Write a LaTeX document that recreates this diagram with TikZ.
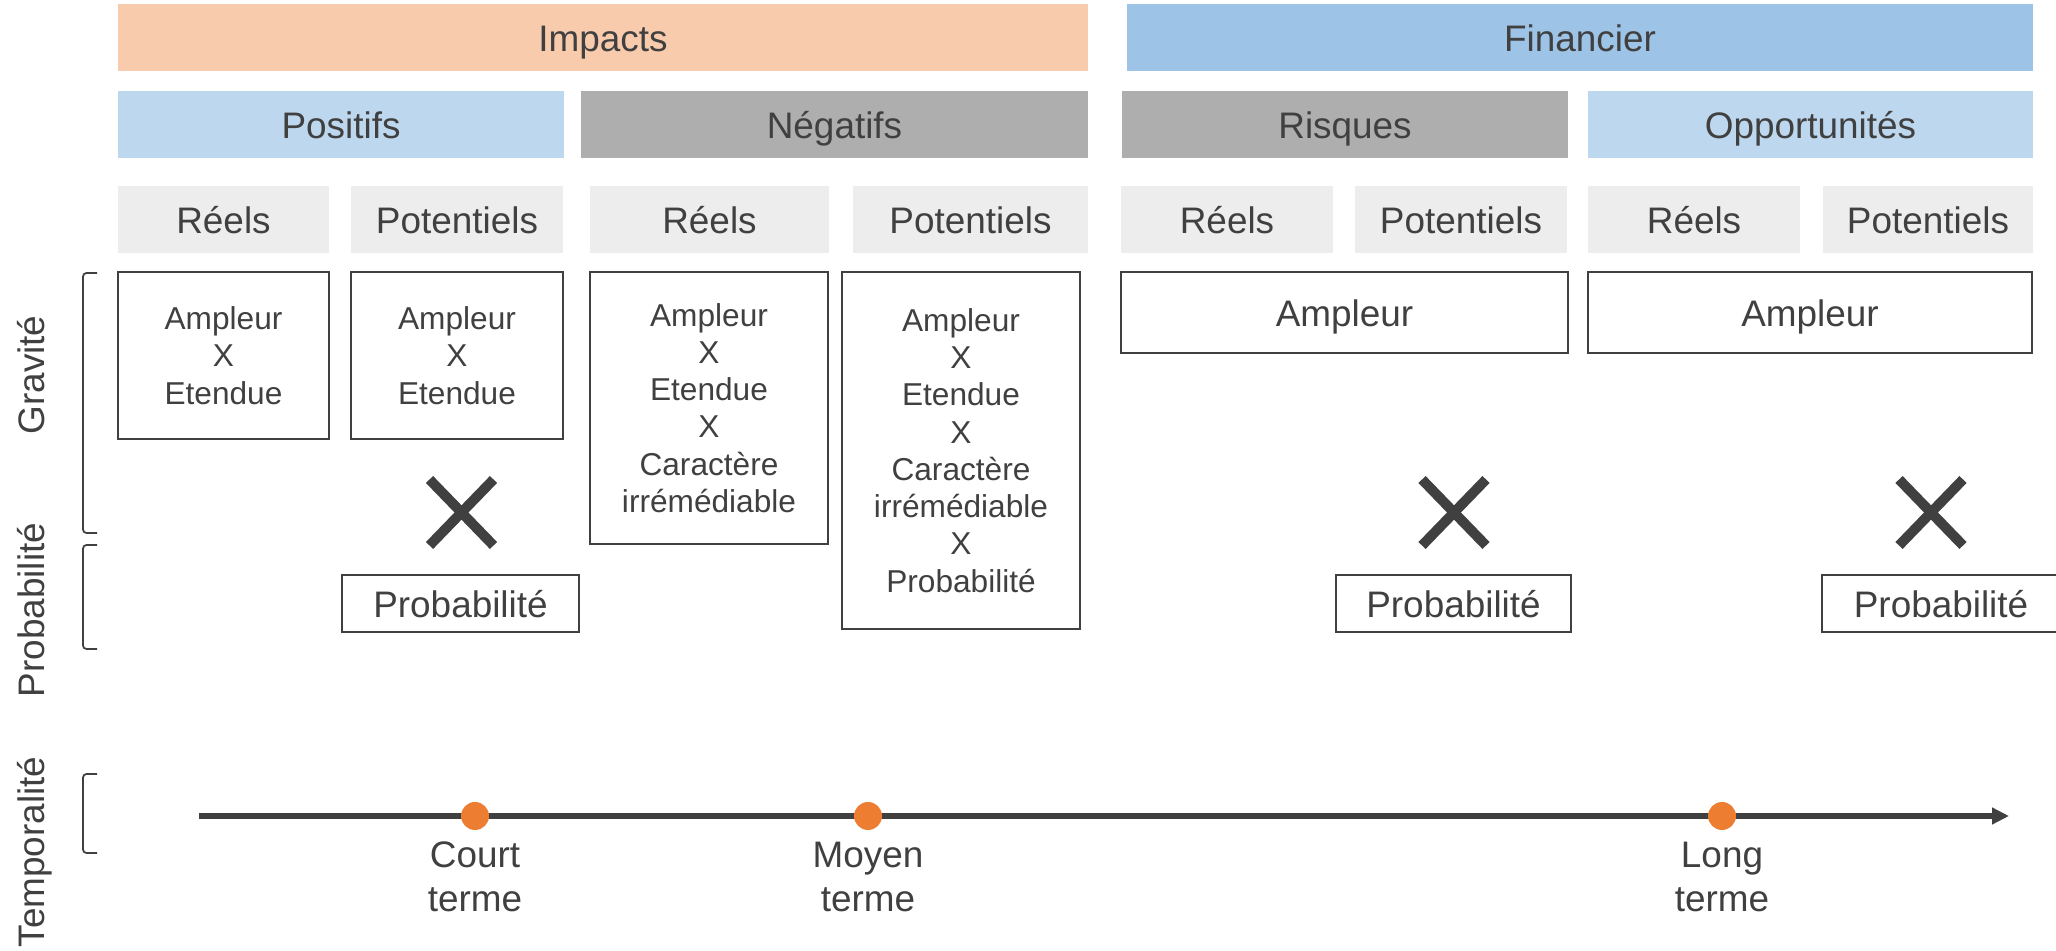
\documentclass[tikz,border=0pt]{standalone}
\usepackage{fontspec}
\setmainfont{Liberation Sans}
\usetikzlibrary{arrows.meta}
\definecolor{gristexte}{HTML}{404040}
\definecolor{saumon}{HTML}{F8CBAD}
\definecolor{bleufin}{HTML}{9DC3E6}
\definecolor{bleuclair}{HTML}{BDD7EE}
\definecolor{grismoyen}{HTML}{AEAEAE}
\definecolor{grisclair}{HTML}{EDEDED}
\definecolor{orangepoint}{HTML}{ED7D31}
\tikzstyle{bandeau} = [rectangle, inner sep=0pt, minimum height=0.67cm, text centered, text=gristexte, text height=0.9em, text depth=0.12em, font=\fontsize{10.5}{12.6}\selectfont]
\tikzstyle{cadre} = [rectangle, inner sep=0pt, draw=gristexte, line width=0.6pt, align=center, text=gristexte, font=\fontsize{9}{10.6}\selectfont]
\tikzstyle{cadregrand} = [cadre, text height=0.9em, text depth=0.12em, font=\fontsize{10.5}{12.6}\selectfont]
\tikzstyle{croix} = [line width=0.1cm, draw=gristexte]
\tikzstyle{crochet} = [line width=0.5pt, draw=gristexte, rounded corners=1pt]
\tikzstyle{cote} = [rotate=90, anchor=base, text=gristexte, font=\fontsize{10.5}{12.6}\selectfont]
\tikzstyle{fleche} = [line width=1.5pt, draw=gristexte, -{Triangle[length=0.17cm,width=0.16cm]}]
\tikzstyle{point} = [circle, fill=orangepoint, inner sep=0pt, minimum size=0.28cm]
\tikzstyle{etiquette} = [align=center, text=gristexte, font=\fontsize{10.5}{12.6}\selectfont]

\begin{document}
\begin{tikzpicture}
    \useasboundingbox (0,0) rectangle (20.56,-9.51);
    % Bandeaux
    \node (impacts) [bandeau, fill=saumon, minimum width=9.70cm] at (6.03,-0.38) {Impacts};
    \node (financier) [bandeau, fill=bleufin, minimum width=9.06cm] at (15.80,-0.38) {Financier};
    \node (positifs) [bandeau, fill=bleuclair, minimum width=4.46cm] at (3.41,-1.245) {Positifs};
    \node (negatifs) [bandeau, fill=grismoyen, minimum width=5.07cm] at (8.345,-1.245) {Négatifs};
    \node (risques) [bandeau, fill=grismoyen, minimum width=4.46cm] at (13.45,-1.245) {Risques};
    \node (opport) [bandeau, fill=bleuclair, minimum width=4.45cm] at (18.105,-1.245) {Opportunités};
    % Reels / Potentiels
    \node (reelsA) [bandeau, fill=grisclair, minimum width=2.11cm] at (2.235,-2.195) {Réels};
    \node (potA) [bandeau, fill=grisclair, minimum width=2.12cm] at (4.57,-2.195) {Potentiels};
    \node (reelsB) [bandeau, fill=grisclair, minimum width=2.39cm] at (7.095,-2.195) {Réels};
    \node (potB) [bandeau, fill=grisclair, minimum width=2.35cm] at (9.705,-2.195) {Potentiels};
    \node (reelsC) [bandeau, fill=grisclair, minimum width=2.12cm] at (12.27,-2.195) {Réels};
    \node (potC) [bandeau, fill=grisclair, minimum width=2.12cm] at (14.61,-2.195) {Potentiels};
    \node (reelsD) [bandeau, fill=grisclair, minimum width=2.12cm] at (16.94,-2.195) {Réels};
    \node (potD) [bandeau, fill=grisclair, minimum width=2.10cm] at (19.28,-2.195) {Potentiels};
    % Cadres
    \node (graviteA) [cadre, minimum width=2.11cm, minimum height=1.67cm] at (2.235,-3.555) {Ampleur\\X\\Etendue};
    \node (graviteB) [cadre, minimum width=2.12cm, minimum height=1.67cm] at (4.57,-3.555) {Ampleur\\X\\Etendue};
    \node (graviteC) [cadre, minimum width=2.38cm, minimum height=2.72cm] at (7.09,-4.08) {Ampleur\\X\\Etendue\\X\\Caractère\\irrémédiable};
    \node (graviteD) [cadre, minimum width=2.38cm, minimum height=3.57cm] at (9.61,-4.505) {Ampleur\\X\\Etendue\\X\\Caractère\\irrémédiable\\X\\Probabilité};
    \node (ampleurC) [cadregrand, minimum width=4.47cm, minimum height=0.81cm] at (13.445,-3.125) {Ampleur};
    \node (ampleurD) [cadregrand, minimum width=4.44cm, minimum height=0.81cm] at (18.10,-3.125) {Ampleur};
    \node (probaB) [cadregrand, minimum width=2.37cm, minimum height=0.57cm] at (4.605,-6.035) {Probabilité};
    \node (probaC) [cadregrand, minimum width=2.35cm, minimum height=0.57cm] at (14.535,-6.035) {Probabilité};
    \node (probaD) [cadregrand, minimum width=2.38cm, minimum height=0.57cm] at (19.41,-6.035) {Probabilité};
    % Croix
    \coordinate (croixB) at (4.615,-5.125);
    \coordinate (croixC) at (14.54,-5.125);
    \coordinate (croixD) at (19.31,-5.125);
    \draw[croix] (croixB) +(-0.32,0.33) -- +(0.32,-0.33) (croixB) +(-0.32,-0.33) -- +(0.32,0.33);
    \draw[croix] (croixC) +(-0.32,0.33) -- +(0.32,-0.33) (croixC) +(-0.32,-0.33) -- +(0.32,0.33);
    \draw[croix] (croixD) +(-0.32,0.33) -- +(0.32,-0.33) (croixD) +(-0.32,-0.33) -- +(0.32,0.33);
    % Axes de gauche
    \draw[crochet] (0.97,-2.73) -- (0.83,-2.73) -- (0.83,-5.33) -- (0.97,-5.33);
    \draw[crochet] (0.97,-5.45) -- (0.83,-5.45) -- (0.83,-6.49) -- (0.97,-6.49);
    \draw[crochet] (0.97,-7.74) -- (0.83,-7.74) -- (0.83,-8.53) -- (0.97,-8.53);
    \node (gravite) [cote] at (0.44,-3.75) {Gravité};
    \node (proba) [cote] at (0.44,-6.10) {Probabilité};
    \node (tempo) [cote] at (0.44,-8.52) {Temporalité};
    % Temporalite
    \coordinate (debut) at (1.99,-8.16);
    \coordinate (fin) at (20.09,-8.16);
    \draw[fleche] (debut) -- (fin);
    \node (court) [point] at (4.75,-8.16) {};
    \node (moyen) [point] at (8.68,-8.16) {};
    \node (long) [point] at (17.22,-8.16) {};
    \node (courtlab) [etiquette] at (4.75,-8.77) {Court\\terme};
    \node (moyenlab) [etiquette] at (8.68,-8.77) {Moyen\\terme};
    \node (longlab) [etiquette] at (17.22,-8.77) {Long\\terme};
\end{tikzpicture}
\end{document}
